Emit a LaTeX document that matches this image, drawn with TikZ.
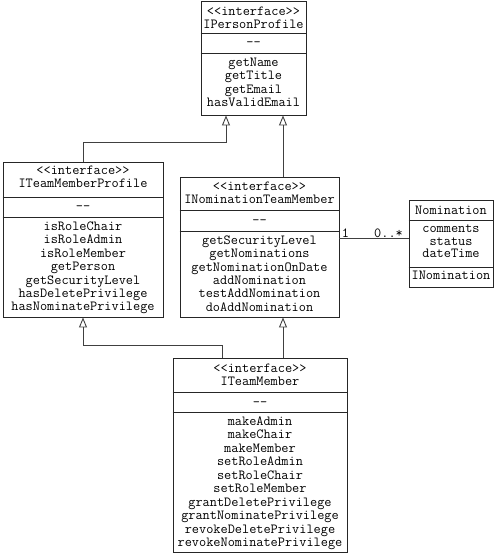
\documentclass[tikz,border=0pt]{standalone}
\usepackage{fontspec}
\usetikzlibrary{arrows.meta}
\tikzset{
  classbox/.style={draw=black!85, line width=0.9pt, inner sep=0pt, fill=white},
  txt/.style={anchor=base, inner sep=0pt, font=\ttfamily\fontsize{13.9}{13.4}\selectfont},
  gen/.style={draw=black!75, line width=0.9pt, -{Triangle[open, length=10pt, width=8pt, line width=0.9pt]}},
  assoc/.style={draw=black!75, line width=0.9pt},
  divider/.style={draw=black!85, line width=0.9pt}
}
\begin{document}
\begin{tikzpicture}[x=1pt, y=1pt]
\useasboundingbox (0,0) rectangle (500,-553);

% ---- class boxes ----
\node[classbox, minimum width=105pt, minimum height=114pt] (pp)  at (253.5,-58) {};
\node[classbox, minimum width=160pt, minimum height=155pt] (tmp) at (83,-239.5) {};
\node[classbox, minimum width=159pt, minimum height=140pt] (ntm) at (259.5,-247) {};
\node[classbox, minimum width=84pt,  minimum height=87pt]  (nom) at (451,-243.5) {};
\node[classbox, minimum width=174pt, minimum height=194pt] (tm)  at (260,-455) {};

% ---- dividers ----
\coordinate (d1) at (0,-33);  \coordinate (d2) at (0,-53);
\draw[divider] (pp.west |- d1) -- (pp.east |- d1);
\draw[divider] (pp.west |- d2) -- (pp.east |- d2);
\coordinate (d3) at (0,-197); \coordinate (d4) at (0,-217);
\draw[divider] (tmp.west |- d3) -- (tmp.east |- d3);
\draw[divider] (tmp.west |- d4) -- (tmp.east |- d4);
\coordinate (d5) at (0,-210); \coordinate (d6) at (0,-231);
\draw[divider] (ntm.west |- d5) -- (ntm.east |- d5);
\draw[divider] (ntm.west |- d6) -- (ntm.east |- d6);
\coordinate (d7) at (0,-220); \coordinate (d8) at (0,-267);
\draw[divider] (nom.west |- d7) -- (nom.east |- d7);
\draw[divider] (nom.west |- d8) -- (nom.east |- d8);
\coordinate (d9) at (0,-392); \coordinate (d10) at (0,-412);
\draw[divider] (tm.west |- d9) -- (tm.east |- d9);
\draw[divider] (tm.west |- d10) -- (tm.east |- d10);

% ---- IPersonProfile ----
\node[txt] (pp-s) at (253.5,-15.5) {<{}<interface>{}>};
\node[txt] (pp-n) at (253.5,-28.5) {IPersonProfile};
\node[txt] (pp-a) at (253.5,-47) {-{}-};
\foreach \t [count=\i] in {getName,getTitle,getEmail,hasValidEmail}
  \node[txt] (pp-m\i) at (253.5,{-66.5-13.4*(\i-1)}) {\t};

% ---- ITeamMemberProfile ----
\node[txt] (tmp-s) at (83,-175) {<{}<interface>{}>};
\node[txt] (tmp-n) at (83,-188) {ITeamMemberProfile};
\node[txt] (tmp-a) at (83,-211) {-{}-};
\foreach \t [count=\i] in {isRoleChair,isRoleAdmin,isRoleMember,getPerson,getSecurityLevel,hasDeletePrivilege,hasNominatePrivilege}
  \node[txt] (tmp-m\i) at (83,{-230.5-13.4*(\i-1)}) {\t};

% ---- INominationTeamMember ----
\node[txt] (ntm-s) at (259.5,-191) {<{}<interface>{}>};
\node[txt] (ntm-n) at (259.5,-204) {INominationTeamMember};
\node[txt] (ntm-a) at (259.5,-224.5) {-{}-};
\foreach \t [count=\i] in {getSecurityLevel,getNominations,getNominationOnDate,addNomination,testAddNomination,doAddNomination}
  \node[txt] (ntm-m\i) at (259.5,{-244.5-13.3*(\i-1)}) {\t};

% ---- Nomination ----
\node[txt] (nom-n) at (451,-214) {Nomination};
\foreach \t [count=\i] in {comments,status,dateTime}
  \node[txt] (nom-f\i) at (451,{-232.5-12.7*(\i-1)}) {\t};
\node[txt] (nom-i) at (451,-279) {INomination};

% ---- ITeamMember ----
\node[txt] (tm-s) at (260,-372.5) {<{}<interface>{}>};
\node[txt] (tm-n) at (260,-385.5) {ITeamMember};
\node[txt] (tm-a) at (260,-406) {-{}-};
\foreach \t [count=\i] in {makeAdmin,makeChair,makeMember,setRoleAdmin,setRoleChair,setRoleMember,grantDeletePrivilege,grantNominatePrivilege,revokeDeletePrivilege,revokeNominatePrivilege}
  \node[txt] (tm-m\i) at (260,{-425.5-13.44*(\i-1)}) {\t};

% ---- generalisations ----
\coordinate (j1) at (226,-142);
\draw[gen] (tmp.north) |- (j1) -- (j1 |- pp.south);
\coordinate (x283) at (283,0);
\draw[gen] (ntm.north -| x283) -- (pp.south -| x283);
\coordinate (j2) at (222,-345);
\draw[gen] (j2 |- tm.north) -- (j2) -| (tmp.south);
\draw[gen] (tm.north -| x283) -- (ntm.south -| x283);

% ---- association ----
\coordinate (ay) at (0,-238);
\draw[assoc] (ntm.east |- ay) -- (nom.west |- ay);
\node[txt] (m1) at (345.5,-237.5) {1};
\node[txt] (m2) at (388.5,-237.5) {0..*};
\end{tikzpicture}
\end{document}
